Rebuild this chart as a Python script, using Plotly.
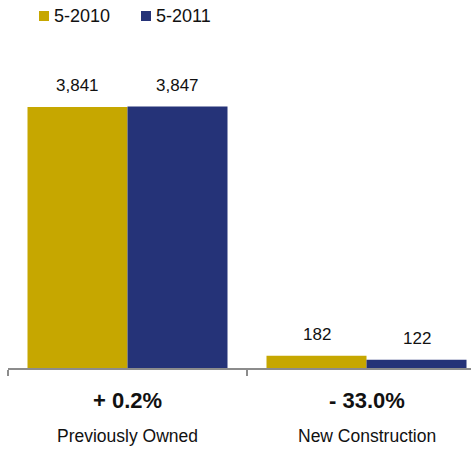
import plotly.graph_objects as go

categories = ["Previously Owned", "New Construction"]
changes = ["+ 0.2%", "- 33.0%"]
series_names = ["5-2010", "5-2011"]
values_2010 = [3841, 182]
values_2011 = [3847, 122]
colors = ["#C6A700", "#253378"]

FONT = "Liberation Sans, Arial, sans-serif"
x_pos = list(range(len(categories)))

W, H = 471, 449
ml, mr, mt, mb = 8, 0, 0, 81
pw, ph = W - ml - mr, H - mt - mb
cat_px = 239            # pixel width of one category slot
bar_w = 100 / cat_px    # width of a single bar in axis units

fig = go.Figure()
for name, vals, col in zip(series_names, [values_2010, values_2011], colors):
    fig.add_trace(go.Bar(
        x=x_pos, y=vals, name=name, marker=dict(color=col, line=dict(width=0)),
        showlegend=False,
    ))

annotations = []
# Value labels above each bar
for i, vals in enumerate([values_2010, values_2011]):
    off = (-0.5 + i) * bar_w
    for xp, v in zip(x_pos, vals):
        annotations.append(dict(
            x=xp + off, y=v, xref="x", yref="y", text=f"{v:,}", showarrow=False,
            yanchor="bottom", yshift=10, font=dict(size=17, color="#111", family=FONT),
        ))

# Percent change and category name under each group
for xp, cat, ch in zip(x_pos, categories, changes):
    annotations.append(dict(
        x=xp, y=0, xref="x", yref="paper", text=f"<b>{ch}</b>", showarrow=False,
        yanchor="middle", yshift=-32, font=dict(size=22, color="#111", family=FONT),
    ))
    annotations.append(dict(
        x=xp, y=0, xref="x", yref="paper", text=cat, showarrow=False,
        yanchor="middle", yshift=-68, font=dict(size=17.5, color="#111", family=FONT),
    ))

# Legend: square swatches followed by series labels
leg_x = [39, 141]
shapes = []
for lx, name, col in zip(leg_x, series_names, colors):
    shapes.append(dict(type="rect", xref="paper", yref="paper",
                       x0=(lx - ml) / pw, x1=(lx + 10 - ml) / pw,
                       y0=(ph - 21) / ph, y1=(ph - 11) / ph,
                       line=dict(width=0), fillcolor=col))
    annotations.append(dict(
        x=(lx + 13 - ml) / pw, y=(ph - 16) / ph, xref="paper", yref="paper",
        text=name, showarrow=False, xanchor="left", yanchor="middle",
        font=dict(size=18, color="#111", family=FONT),
    ))

fig.update_layout(
    width=W, height=H,
    margin=dict(l=ml, r=mr, t=mt, b=mb),
    plot_bgcolor="white", paper_bgcolor="white",
    barmode="group", bargap=1 - 2 * bar_w, bargroupgap=0,
    showlegend=False,
    xaxis=dict(range=[-0.5, -0.5 + pw / cat_px], showgrid=False, zeroline=False,
               showline=True, linecolor="#8c8c8c", linewidth=2,
               tickvals=[-0.5, 0.5], ticks="outside", ticklen=6, tickwidth=2,
               tickcolor="#8c8c8c", showticklabels=False),
    yaxis=dict(range=[0, 3841 / 261 * ph], visible=False, showgrid=False),
    annotations=annotations,
    shapes=shapes,
)

fig.write_html("out.html")
